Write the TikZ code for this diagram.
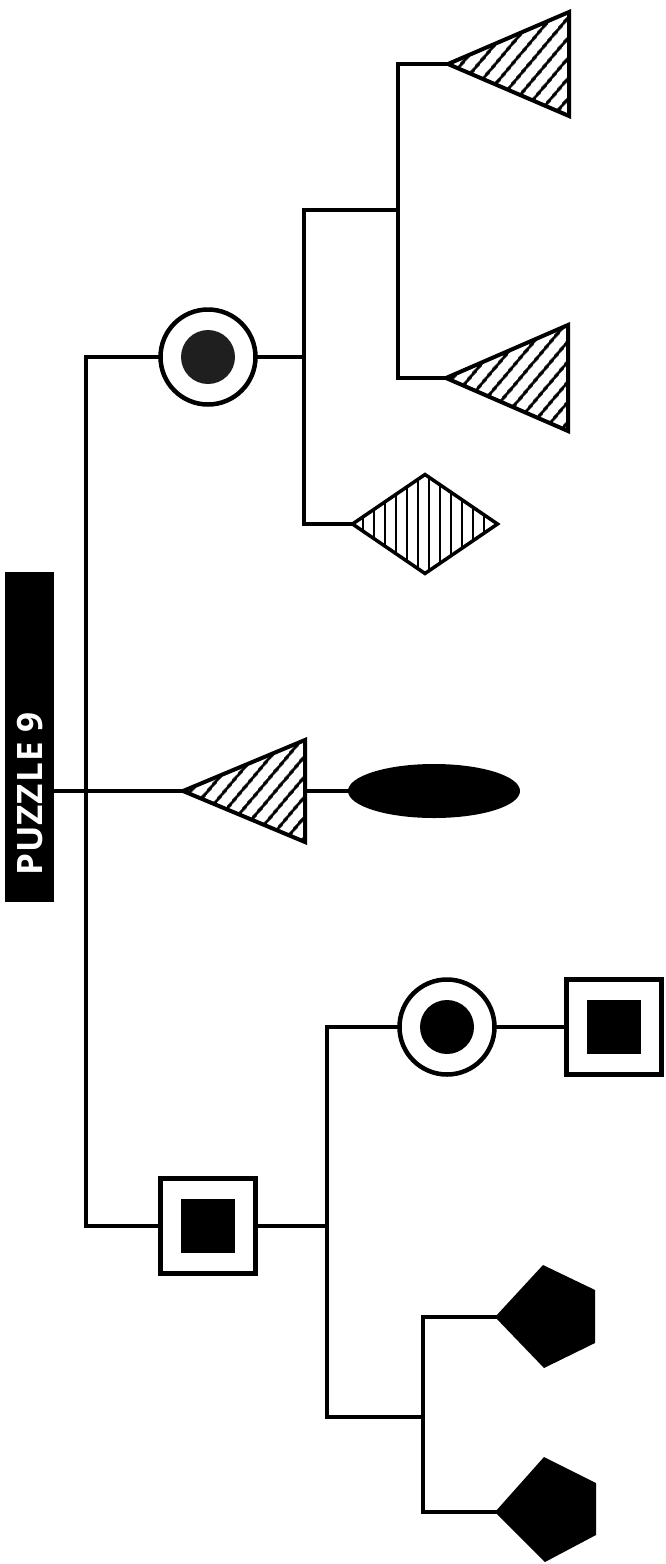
\documentclass[tikz,border=0pt]{standalone}
\usepackage{fontspec}
\newfontfamily\titlefont[LetterSpace=3]{Open Sans}
\usetikzlibrary{shapes.geometric,patterns.meta}
\begin{document}
\begin{tikzpicture}[x=1pt,y=-1pt,
  conn/.style={line width=3.6pt, line cap=rect},
  sqout/.style={draw, shape=rectangle, line width=5pt, minimum size=95pt, inner sep=0pt},
  sqin/.style={fill=black, shape=rectangle, minimum size=54pt, inner sep=0pt},
  ringout/.style={draw, circle, line width=4.5pt, minimum size=95pt, inner sep=0pt},
  dotin/.style={fill=black, circle, minimum size=54pt, inner sep=0pt},
  hatchtri/.style={line width=4pt, line join=miter, pattern={Lines[angle=50,distance=13pt,line width=3.4pt]}},
  hatchdia/.style={draw, diamond, line width=3.5pt, inner sep=0pt, minimum width=146pt, minimum height=100pt, pattern={Lines[angle=90,distance=11pt,line width=2.5pt]}},
  blob/.style={fill=black, ellipse, inner sep=0pt, minimum width=172pt, minimum height=54pt},
  penta/.style={fill=black},
  titlebox/.style={fill=black, minimum width=49pt, minimum height=330pt, inner sep=0pt},
  titletext/.style={rotate=90, text=white, inner sep=0pt, font=\titlefont\bfseries\fontsize{35}{35}\selectfont}
]
\useasboundingbox (0,0) rectangle (665,1564);

% title
\node[titlebox] (title) at (29.5,737) {};
\node[titletext] (ttl) at (30,794) {PUZZLE 9};

% junctions
\coordinate (jm) at (86,791);
\coordinate (ja) at (304,210);
\coordinate (jr) at (304,357);
\coordinate (jb) at (398,210);
\coordinate (jc) at (327,1226);
\coordinate (jd) at (423,1417);

% top ring
\node[ringout] (c1) at (208,357) {};
\node[dotin, fill=black!88] (c1i) at (c1) {};

% top-right triangles
\coordinate (t1) at (448,64);
\draw[hatchtri] (t1) -- (569,12) -- (569,116) -- cycle;
\coordinate (t3) at (446,378);
\draw[hatchtri] (t3) -- (568,325) -- (568,431) -- cycle;

% diamond
\node[hatchdia] (d1) at (425,524) {};

% middle triangle and ellipse
\coordinate (t2) at (183,791);
\coordinate (t2r) at (305,791);
\draw[hatchtri] (t2) -- (305,740) -- (305,842) -- cycle;
\node[blob] (e1) at (434,791) {};

% bottom-left square
\node[sqout] (s1) at (208,1226) {};
\node[sqin] (s1i) at (s1) {};

% bottom ring and square
\node[ringout] (c2) at (447,1027) {};
\node[dotin] (c2i) at (c2) {};
\node[sqout] (s2) at (614,1027) {};
\node[sqin] (s2i) at (s2) {};

% pentagons
\coordinate (p1) at (495,1317);
\fill[penta] (p1) -- (543,1265) -- (595,1290) -- (595,1343) -- (544,1368) -- cycle;
\coordinate (p2) at (495,1512);
\fill[penta] (p2) -- (544,1457) -- (596,1483) -- (596,1535) -- (545,1562) -- cycle;

% connectors
\draw[conn] (title.east |- jm) -- (jm) -- (t2);
\draw[conn] (c1.west) -| (jm) |- (s1.west);
\draw[conn] (c1.east) -- (jr);
\draw[conn] (ja) |- (d1.west);
\draw[conn] (ja) -- (jb);
\draw[conn] (t1) -| (jb) |- (t3);
\draw[conn] (t2r) -- (e1.west);
\draw[conn] (s1.east) -- (jc);
\draw[conn] (c2.west) -| (jc) |- (jd);
\draw[conn] (c2.east) -- (s2.west);
\draw[conn] (p1) -| (jd) |- (p2);
\end{tikzpicture}
\end{document}
